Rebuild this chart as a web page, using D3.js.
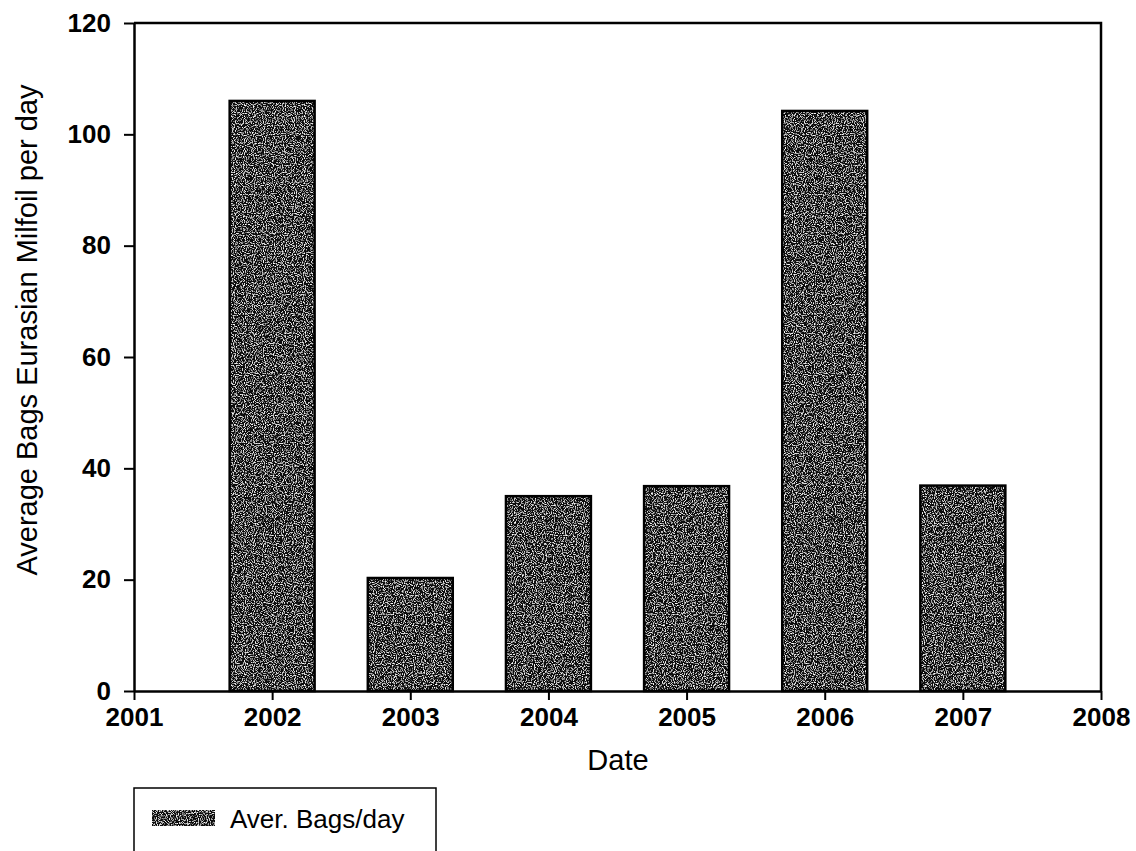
<html>
<meta charset="UTF-8">
<head>
<style>
  body { margin: 0; background: white; }
  text { font-family: "Liberation Sans", Arial, sans-serif; }
</style>
</head>
<script src="https://d3js.org/d3.v7.min.js"></script>
<body>
<div id="chart"></div>
<script>
// data
var years = [2002, 2003, 2004, 2005, 2006, 2007];
var bags = [106, 20.3, 35, 36.8, 104.2, 36.9];
var xTicks = [2001, 2002, 2003, 2004, 2005, 2006, 2007, 2008];
var yTicks = [0, 20, 40, 60, 80, 100, 120];
var seriesName = "Aver. Bags/day";

var width = 1136, height = 851;
var margin = { top: 23, left: 134, right: 35, bottom: 160 };
var plotRight = width - margin.right;
var plotBottom = height - margin.bottom;

var svg = d3.select("#chart").append("svg")
  .attr("width", width)
  .attr("height", height);

// speckled dark fill like the scanned original
var defs = svg.append("defs");
var f = defs.append("filter").attr("id", "speckle")
  .attr("x", 0).attr("y", 0).attr("width", 1).attr("height", 1);
f.append("feTurbulence").attr("type", "fractalNoise")
  .attr("baseFrequency", 0.9).attr("numOctaves", 1).attr("seed", 3).attr("result", "noise");
f.append("feColorMatrix").attr("in", "noise").attr("type", "matrix")
  .attr("values", "0 0 0 0 1  0 0 0 0 1  0 0 0 0 1  4 0 0 0 -2.0")
  .attr("result", "dots");
f.append("feComposite").attr("in", "dots").attr("in2", "SourceGraphic")
  .attr("operator", "atop");

var x = d3.scaleLinear().domain([2001, 2008]).range([margin.left, plotRight]);
var y = d3.scaleLinear().domain([0, 120]).range([plotBottom, margin.top]);
var barW = (x(2002) - x(2001)) * 0.615;

// bars
svg.selectAll(".bar")
  .data(years)
  .enter()
  .append("rect")
  .attr("class", "bar")
  .attr("x", d => x(d) - barW / 2)
  .attr("y", (d, i) => y(bags[i]))
  .attr("width", barW)
  .attr("height", (d, i) => y(0) - y(bags[i]))
  .attr("fill", "#0a0a0a")
  .attr("filter", "url(#speckle)");

svg.selectAll(".barEdge")
  .data(years)
  .enter()
  .append("rect")
  .attr("class", "barEdge")
  .attr("x", d => x(d) - barW / 2)
  .attr("y", (d, i) => y(bags[i]))
  .attr("width", barW)
  .attr("height", (d, i) => y(0) - y(bags[i]))
  .attr("fill", "none")
  .attr("stroke", "#000")
  .attr("stroke-width", 2.5);

// frame: top and right lines
svg.append("path")
  .attr("d", `M${margin.left},${margin.top}H${plotRight}V${plotBottom}`)
  .attr("fill", "none")
  .attr("stroke", "#000")
  .attr("stroke-width", 2.5);

// axes
var xAxis = d3.axisBottom(x)
  .tickValues(xTicks)
  .tickFormat(d3.format("d"))
  .tickSize(9)
  .tickSizeOuter(0)
  .tickPadding(8);

var yAxis = d3.axisLeft(y)
  .tickValues(yTicks)
  .tickSize(10)
  .tickSizeOuter(0)
  .tickPadding(13);

var gx = svg.append("g")
  .attr("transform", `translate(0,${plotBottom})`)
  .call(xAxis);

var gy = svg.append("g")
  .attr("transform", `translate(${margin.left},0)`)
  .call(yAxis);

[gx, gy].forEach(g => {
  g.attr("font-size", null).attr("font-family", null);
  g.select(".domain").attr("stroke-width", 2.5);
  g.selectAll(".tick line").attr("stroke-width", 2);
  g.selectAll(".tick text")
    .style("font-size", "26px")
    .style("font-weight", "bold")
    .attr("fill", "#000");
});

// axis titles
svg.append("text")
  .attr("x", 618)
  .attr("y", 770)
  .attr("text-anchor", "middle")
  .style("font-size", "29px")
  .text("Date");

svg.append("text")
  .attr("transform", `translate(37,330) rotate(-90)`)
  .attr("text-anchor", "middle")
  .style("font-size", "29px")
  .text("Average Bags Eurasian Milfoil per day");

// legend
var legend = svg.append("g").attr("transform", "translate(134,788)");
legend.append("rect")
  .attr("width", 302)
  .attr("height", 80)
  .attr("fill", "white")
  .attr("stroke", "#000")
  .attr("stroke-width", 1.5);
legend.append("rect")
  .attr("x", 18).attr("y", 22)
  .attr("width", 63).attr("height", 16)
  .attr("fill", "#0a0a0a")
  .attr("filter", "url(#speckle)");
legend.append("text")
  .attr("x", 96)
  .attr("y", 40)
  .style("font-size", "26px")
  .text(seriesName);
</script>
</body>
</html>
